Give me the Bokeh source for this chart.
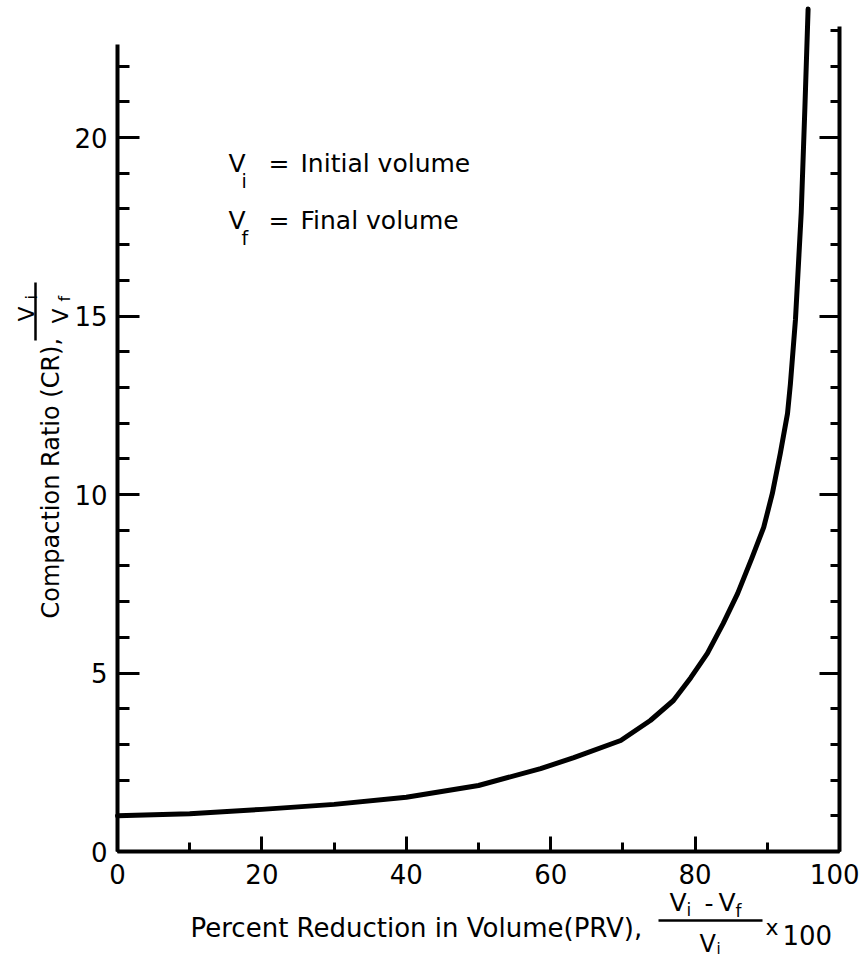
from bokeh.plotting import figure
from bokeh.models import Range1d, LinearAxis, SingleIntervalTicker, Label, Arrow
from bokeh.embed import file_html
from bokeh.resources import INLINE

# ---- data ----
prv = [0, 10, 20, 30, 40, 50, 58.6, 63.2, 69.7, 73.8, 77.0, 79.4, 81.7, 83.9, 85.9,
       87.9, 89.5, 90.7, 91.8, 92.8, 93.2, 93.9, 94.7, 95.2, 95.65]
cr = [1.0, 1.06, 1.18, 1.32, 1.52, 1.85, 2.32, 2.63, 3.11, 3.67, 4.23, 4.87, 5.55, 6.39, 7.23,
      8.24, 9.08, 10.03, 11.15, 12.27, 13.1, 14.9, 17.9, 20.8, 23.6]
x_tick_labels = ["0", "20", "40", "60", "80", "100"]
y_tick_labels = ["0", "5", "10", "15", "20"]

FONT = "DejaVu Sans"
W, H = 859, 959
FL, FW, FH = 117, 722, 851        # pixel position of x=0 / width of 0..100 / pixel of y=0
XMAX, YMAX = 100.0, 23.84


def X(px):
    return (px - FL) / FW * XMAX


def Y(py):
    return (FH - py) / FH * YMAX


p = figure(width=W, height=H,
           x_range=Range1d(X(0), X(W)), y_range=Range1d(Y(H), Y(0)),
           x_axis_type=None, y_axis_type=None,
           toolbar_location=None, output_backend="svg",
           min_border_left=0, min_border_right=0,
           min_border_top=0, min_border_bottom=0)
p.outline_line_color = None
p.background_fill_color = "white"
p.border_fill_color = "white"

common = dict(axis_line_width=4, axis_line_color="black",
              major_tick_line_width=3, minor_tick_line_width=3,
              major_tick_line_color="black", minor_tick_line_color="black",
              major_tick_out=0, minor_tick_out=0,
              major_label_text_font=FONT, major_label_text_color="black")

xa = LinearAxis(ticker=SingleIntervalTicker(interval=20, num_minor_ticks=2),
                fixed_location=0, bounds=(0, 100), major_tick_in=15, minor_tick_in=9,
                major_label_standoff=12, major_label_text_font_size="26px",
                major_label_overrides={int(s): s for s in x_tick_labels}, **common)
p.add_layout(xa, "below")

ya = LinearAxis(ticker=SingleIntervalTicker(interval=5, num_minor_ticks=5),
                fixed_location=0, bounds=(0, 22.6), major_tick_in=22, minor_tick_in=12,
                major_label_standoff=10, major_label_text_font_size="26px",
                major_label_overrides={int(s): s for s in y_tick_labels}, **common)
p.add_layout(ya, "left")

yr = LinearAxis(ticker=SingleIntervalTicker(interval=5, num_minor_ticks=5),
                fixed_location=100, bounds=(0, 23.1), major_tick_in=20, minor_tick_in=9,
                major_label_standoff=0, major_label_text_font_size="26px",
                major_label_overrides={int(s): "" for s in y_tick_labels}, **common)
p.add_layout(yr, "right")

p.line(prv, cr, line_width=5, line_color="black", line_join="round", line_cap="round")


def lab(px, py, text, size, angle=0, align="left"):
    p.add_layout(Label(x=X(px), y=Y(py), text=text, text_font=FONT,
                       text_font_size=f"{size}px", text_color="black",
                       text_align=align, text_baseline="alphabetic",
                       angle=angle, angle_units="deg"))


def bar(x0, y0, x1, y1, w=2.5):
    p.add_layout(Arrow(end=None, start=None, x_start=X(x0), y_start=Y(y0),
                       x_end=X(x1), y_end=Y(y1), line_width=w, line_color="black"))


# notes
lab(228, 163, "V", 25)
lab(241, 180, "i", 19)
lab(268, 163, "=", 25)
lab(300, 163, "Initial volume", 25)
lab(228, 220, "V", 25)
lab(241, 237, "f", 19)
lab(268, 220, "=", 25)
lab(300, 220, "Final volume", 25)

# x axis label
lab(190, 927, "Percent Reduction in Volume(PRV),", 26)
lab(669, 902, "V", 25)
lab(686, 909, "i", 17)
lab(704, 902, "-", 25)
lab(718, 902, "V", 25)
lab(735, 910, "f", 17)
bar(658, 920, 762, 920)
lab(699, 943, "V", 24)
lab(716, 948, "i", 15)
lab(765, 927, "x", 22)
lab(782, 934, "100", 26)

# y axis label (rotated)
lab(50, 618, "Compaction Ratio (CR),", 24, angle=90)
lab(26, 321, "V", 22, angle=90)
lab(31, 299, "i", 16, angle=90)
bar(35, 282, 35, 340)
lab(60, 323, "V", 22, angle=90)
lab(64, 301, "f", 16, angle=90)

open("out.html", "w").write(file_html(p, INLINE))
